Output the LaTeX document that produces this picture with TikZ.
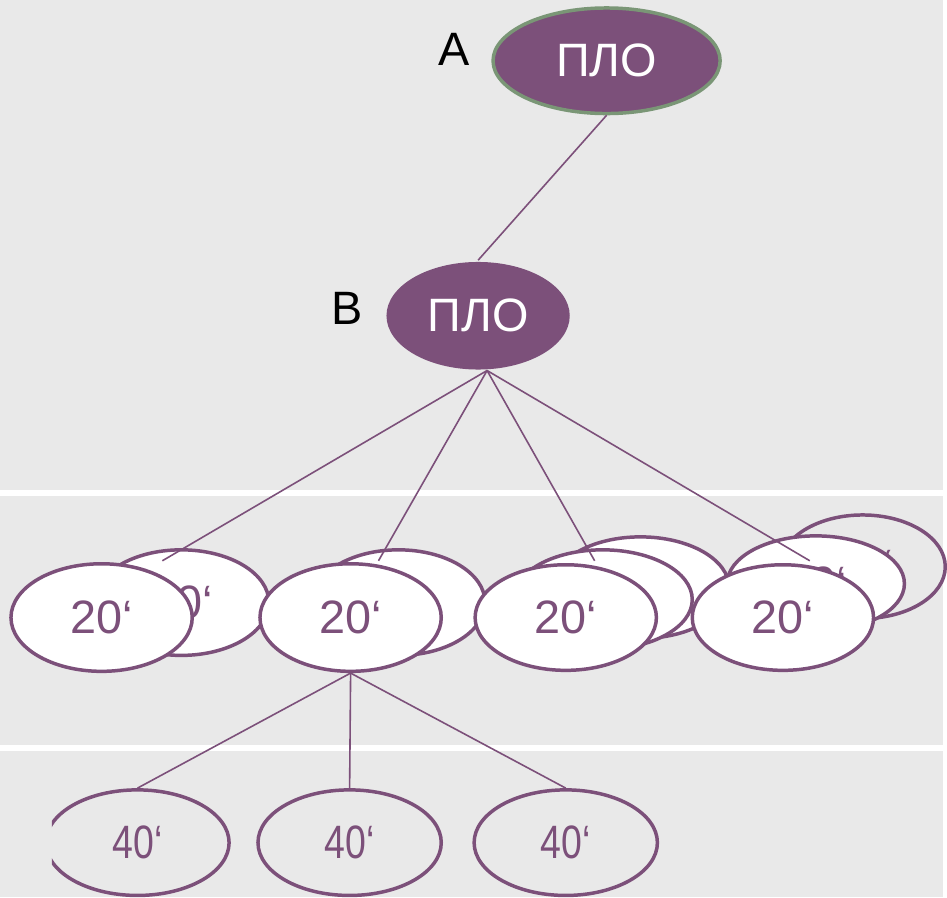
\documentclass[tikz,border=0pt]{standalone}
\usepackage{fontspec}
\setmainfont{Liberation Sans}
\usetikzlibrary{shapes.geometric}

\definecolor{plo}{RGB}{124,80,122}
\definecolor{rim}{RGB}{122,150,118}
\definecolor{bg}{RGB}{233,233,233}

\tikzset{
  oval/.style={ellipse,draw=plo,line width=3.5pt,inner sep=0pt,
    minimum width=182pt,minimum height=106pt,text=plo,
    font=\fontsize{47}{50}\selectfont},
  link/.style={draw=plo,line width=1.6pt}
}

\begin{document}
\begin{tikzpicture}[x=1pt,y=-1pt]

        % background and bands
        \fill[bg] (0,0) rectangle (947,901);
        \fill[white] (0,492) rectangle (947,498);
        \fill[white] (0,748) rectangle (947,754);

        % lowest row
        \begin{scope}[every node/.style={oval,minimum width=184pt}]
          \begin{scope}
            \clip (52,760) rectangle (300,901);
            \node (f1) at (138,846) {\scalebox{.8}[1]{40‘}};
          \end{scope}
          \node (f2) at (351,846) {\scalebox{.8}[1]{40‘}};
          \node (f3) at (568,846) {\scalebox{.8}[1]{40‘}};
        \end{scope}

        % middle row, back to front
        \begin{scope}[every node/.style={oval,fill=white}]
          \node[minimum width=176pt] (g1b) at (182,605) {20‘};
          \node[minimum width=174pt] (g2b) at (400,605) {20‘};
          \node[minimum width=178pt,minimum height=102pt] (g3c) at (643,590) {};
          \node[minimum width=180pt,minimum height=100pt] (g3b) at (605,602) {};
          \node[fill=none,minimum width=166pt,minimum height=104pt] (g4c) at (866,569) {20‘};
          \node[minimum width=178pt,minimum height=96pt] (g4b) at (819,586) {20‘};
          \node[minimum height=108pt] (g1) at (102,620) {20‘};
          \node[minimum height=108pt] (g2) at (352,620) {20‘};
          \node (g3) at (568,620) {20‘};
          \node (g4) at (786,620) {20‘};
        \end{scope}

        % top row
        \begin{scope}[every node/.style={oval,fill=plo,text=white}]
          \node[draw=rim,minimum width=228pt] (A) at (609,61) {ПЛО};
          \node[draw=none,minimum width=184pt,minimum height=108pt] (B) at (480,317) {ПЛО};
        \end{scope}

        \begin{scope}[every node/.style={font=\fontsize{47}{50}\selectfont}]
          \node (la) at (456,50) {A};
          \node (lb) at (348,310) {B};
        \end{scope}

        \coordinate (Bf) at (489,372);
        \coordinate (t1) at (163,563);
        \coordinate (t2) at (380,563);
        \coordinate (t3) at (597,563);
        \coordinate (t4) at (813,563);

        \begin{scope}[every edge/.style={link}]
          \path (A.south) edge (B.north);
          \path (Bf) edge (t1);
          \path (Bf) edge (t2);
          \path (Bf) edge (t3);
          \path (Bf) edge (t4);
          \path (g2.south) edge (f1.north);
          \path (g2.south) edge (f2.north);
          \path (g2.south) edge (f3.north);
        \end{scope}

      \end{tikzpicture}
\end{document}
